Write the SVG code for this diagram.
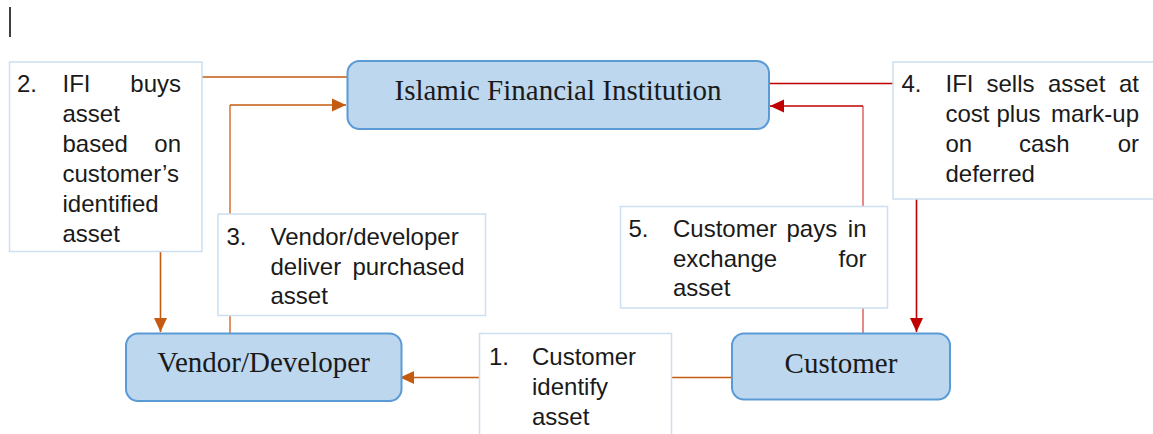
<svg xmlns="http://www.w3.org/2000/svg" width="1153" height="434" viewBox="0 0 1153 434">
  <style>
    .node rect { fill: #bdd7ee; stroke: #5b9bd5; stroke-width: 2; }
    .node text { font-family: "Liberation Serif", "Times New Roman", serif; font-size: 29px; fill: #1a1a1a; text-anchor: middle; }
    .note rect { fill: #ffffff; stroke: #cddff2; stroke-width: 1.5; }
    .note text { font-family: "Liberation Sans", Arial, sans-serif; font-size: 24px; fill: #1a1a1a; }
    .end { text-anchor: end; }
    .wire { fill: none; stroke-width: 1.6; }
    .orange { stroke: #c55a11; }
    .orange-soft { stroke: #e39467; stroke-width: 2; }
    .red { stroke: #c00000; }
    .red-soft { stroke: #e58a8a; stroke-width: 2; }
  </style>
  <defs>
    <marker id="arrow-orange" viewBox="0 0 14 14" refX="14" refY="7" markerWidth="14" markerHeight="14" markerUnits="userSpaceOnUse" orient="auto">
      <path d="M0,0.5 L14,7 L0,13.5 Z" fill="#c55a11"/>
    </marker>
    <marker id="arrow-red" viewBox="0 0 14 14" refX="14" refY="7" markerWidth="14" markerHeight="14" markerUnits="userSpaceOnUse" orient="auto">
      <path d="M0,0.5 L14,7 L0,13.5 Z" fill="#c00000"/>
    </marker>
  </defs>

  <rect width="1153" height="434" fill="#ffffff"/>

  <!-- text cursor -->
  <line x1="10" y1="7" x2="10" y2="37" stroke="#000000" stroke-width="1.5"/>

  <!-- connectors -->
  <g id="connectors">
    <!-- 2: IFI buys asset -->
    <polyline class="wire orange" points="348,77 160.5,77 160.5,332" marker-end="url(#arrow-orange)"/>
    <!-- 3: delivery of purchased asset -->
    <polyline class="wire orange-soft" points="230,333 230,105"/>
    <polyline class="wire orange" points="230,105 346,105" marker-end="url(#arrow-orange)"/>
    <!-- 1: customer identifies asset -->
    <polyline class="wire orange" points="732,377.5 400,377.5" marker-end="url(#arrow-orange)"/>
    <!-- 4: IFI sells asset -->
    <polyline class="wire red" points="769,83.5 916.5,83.5 916.5,332" marker-end="url(#arrow-red)"/>
    <!-- 5: customer pays -->
    <polyline class="wire red-soft" points="863,333 863,106"/>
    <polyline class="wire red" points="863,106 770,106" marker-end="url(#arrow-red)"/>
  </g>

  <!-- step notes -->
  <g id="note-2" class="note">
    <rect x="9.5" y="62" width="192.5" height="189.5"/>
    <text x="17" y="92">2.</text>
    <text x="62.5" y="92">IFI</text>
    <text class="end" x="181" y="92">buys</text>
    <text x="62.5" y="122">asset</text>
    <text x="62.5" y="152">based</text>
    <text class="end" x="181" y="152">on</text>
    <text x="62.5" y="182">customer’s</text>
    <text x="62.5" y="212">identified</text>
    <text x="62.5" y="242">asset</text>
  </g>

  <g id="note-3" class="note">
    <rect x="218" y="214" width="267.5" height="101.5"/>
    <text x="226.5" y="245">3.</text>
    <text x="270.5" y="245">Vendor/developer</text>
    <text x="270.5" y="274.5">deliver</text>
    <text class="end" x="464.5" y="274.5">purchased</text>
    <text x="270.5" y="303.5">asset</text>
  </g>

  <g id="note-4" class="note">
    <rect x="893" y="62" width="265" height="137"/>
    <text x="901.5" y="92">4.</text>
    <text x="945.5" y="92">IFI</text>
    <text x="986.5" y="92">sells</text>
    <text x="1048" y="92">asset</text>
    <text class="end" x="1139" y="92">at</text>
    <text x="945.5" y="122">cost</text>
    <text x="996.5" y="122">plus</text>
    <text class="end" x="1139" y="122">mark-up</text>
    <text x="945.5" y="152">on</text>
    <text x="1019" y="152">cash</text>
    <text class="end" x="1139" y="152">or</text>
    <text x="945.5" y="182">deferred</text>
  </g>

  <g id="note-5" class="note">
    <rect x="620.5" y="206.5" width="267" height="101.5"/>
    <text x="628.5" y="237">5.</text>
    <text x="673" y="237">Customer</text>
    <text x="786.5" y="237">pays</text>
    <text class="end" x="866.5" y="237">in</text>
    <text x="673" y="266.5">exchange</text>
    <text class="end" x="866.5" y="266.5">for</text>
    <text x="673" y="296">asset</text>
  </g>

  <g id="note-1" class="note">
    <rect x="479.5" y="333.5" width="192" height="110"/>
    <text x="489" y="365">1.</text>
    <text x="532" y="365">Customer</text>
    <text x="532" y="395">identify</text>
    <text x="532" y="425">asset</text>
  </g>

  <!-- parties -->
  <g id="ifi" class="node">
    <rect x="347.5" y="61" width="421.5" height="68" rx="12"/>
    <text x="558" y="100">Islamic Financial Institution</text>
  </g>

  <g id="vendor" class="node">
    <rect x="126" y="333.5" width="275.5" height="67.5" rx="12"/>
    <text x="263.5" y="372">Vendor/Developer</text>
  </g>

  <g id="customer" class="node">
    <rect x="732" y="333.5" width="218" height="66" rx="12"/>
    <text x="841" y="373">Customer</text>
  </g>
</svg>
